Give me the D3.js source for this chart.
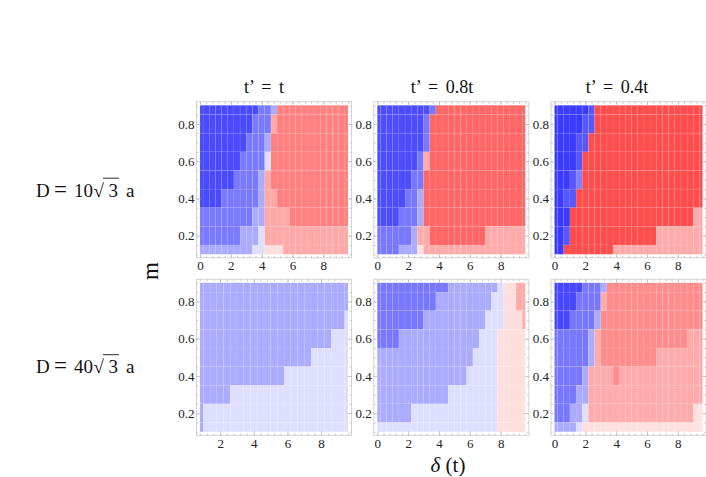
<!DOCTYPE html>
<html>
<head>
<meta charset="utf-8">
<script src="https://cdn.jsdelivr.net/npm/d3@7"></script>
<style>
body { margin: 0; background: #fff; }
text { font-family: "Liberation Serif", "Times New Roman", serif; }
</style>
</head>
<body>
<svg id="chart" width="706" height="477"></svg>
<script>
// column titles and row labels
var titles = ["t\u2019 = t", "t\u2019 = 0.8t", "t\u2019 = 0.4t"];
var rowFactor = ["10", "40"];

// m values of the rows (top to bottom), delta step 0.4
var mValues = [0.9, 0.8, 0.7, 0.6, 0.5, 0.4, 0.3, 0.2, 0.1];
var deltaStep = 0.4;
var deltaMax = 9.6;
var deltaStart = [0, 0, 0, 0.8, 0, 0];
var xTicks = [0, 2, 4, 6, 8];
var yTicks = [0.2, 0.4, 0.6, 0.8];

// each row is a list of runs "<count><level>" along delta
// level codes: D M L V = blue (dark -> very light), v l m r = red (very light -> dark)
var grid1 = [
  "10D 2M 1L 12m",
  "9D 3M 1l 12m",
  "8D 3M 1L 13m",
  "7D 4M 1V 13m",
  "6D 4M 1L 1l 13m",
  "4D 6M 1L 2l 12m",
  "9M 2L 4l 10m",
  "7M 3L 1V 14l",
  "9L 2V 3v 11l"
];
var grid2 = [
  "9D 1M 15m",
  "8D 1M 16m",
  "8D 1M 16m",
  "7D 1M 1l 16m",
  "6D 2M 17m",
  "5D 2M 1L 17m",
  "4D 3M 1L 17m",
  "6M 1L 2l 9m 7l",
  "4M 3L 1v 17l"
];
var grid3 = [
  "6D 1M 18r",
  "5D 2M 18r",
  "4D 2M 19r",
  "4D 1M 20r",
  "3D 1M 1L 20r",
  "2D 2M 21r",
  "3D 20r 2l",
  "2D 1M 14r 8l",
  "2D 8r 15l"
];
var grid4 = [
  "23L",
  "23L",
  "22L 1V",
  "20L 3V",
  "17L 6V",
  "13L 10V",
  "5L 18V",
  "1L 22V",
  "1L 22V"
];
var grid5 = [
  "12M 8L 1V 2v 2l",
  "10M 9L 2V 2v 2l",
  "8M 10L 3V 3v 1l",
  "4M 13L 3V 5v",
  "16L 4V 5v",
  "15L 5V 5v",
  "12L 8V 5v",
  "6L 14V 5v",
  "20V 5v"
];
var grid6 = [
  "5D 3M 1L 16m",
  "4D 4M 1l 16m",
  "3D 4M 1L 17m",
  "6M 1L 1l 14m 3l",
  "6M 1L 1l 9m 8l",
  "5M 1L 4l 1m 14l",
  "4M 2L 19l",
  "3M 2L 1V 17l 2v",
  "4L 1V 20v"
];
var grids = [grid1, grid2, grid3, grid4, grid5, grid6];

// value of each level code, per panel (-1 = full blue, +1 = full red)
var shades = [
  {D: -0.71, M: -0.52, L: -0.33, V: -0.13, v: 0.13, l: 0.34, m: 0.5},
  {D: -0.70, M: -0.53, L: -0.33, V: -0.13, v: 0.12, l: 0.33, m: 0.6},
  {D: -0.77, M: -0.66, L: -0.5, r: 0.7, l: 0.33},
  {L: -0.33, V: -0.13},
  {M: -0.53, L: -0.33, V: -0.13, v: 0.13, l: 0.33},
  {D: -0.72, M: -0.53, L: -0.33, V: -0.13, v: 0.12, l: 0.33, m: 0.45}
];

function expandRow(s) {
  var out = [];
  s.split(" ").forEach(function(run) {
    var n = parseInt(run, 10), c = run.slice(-1);
    for (var i = 0; i < n; i++) out.push(c);
  });
  return out;
}

var svg = d3.select("#chart");
var color = d3.scaleLinear().domain([-1, 0, 1]).range(["#0000ff", "#ffffff", "#ff0000"]);

var panelLeft = [200, 377.3, 554.5];
var panelTop = [105.3, 282.8];
var pw = 148, ph = 149, pad = 3.5;

grids.forEach(function(grid, p) {
  var col = p % 3, row = Math.floor(p / 3);
  var x0 = panelLeft[col], y0 = panelTop[row];
  var dmin = deltaStart[p];
  var x = d3.scaleLinear().domain([dmin, deltaMax]).range([x0, x0 + pw]);
  var y = d3.scaleLinear().domain([0.1, 0.9]).range([y0 + ph, y0]);
  var g = svg.append("g");

  // cells
  var cells = [];
  grid.forEach(function(line, j) {
    var m = mValues[j];
    expandRow(line).forEach(function(c, i) {
      var d = dmin + deltaStep * i;
      cells.push({
        d0: Math.max(d - deltaStep / 2, dmin), d1: Math.min(d + deltaStep / 2, deltaMax),
        m0: Math.max(m - 0.05, 0.1), m1: Math.min(m + 0.05, 0.9),
        v: shades[p][c]
      });
    });
  });
  g.selectAll("rect.cell")
    .data(cells)
    .enter()
    .append("rect")
    .attr("class", "cell")
    .attr("x", function(d) { return x(d.d0); })
    .attr("y", function(d) { return y(d.m1); })
    .attr("width", function(d) { return Math.max(0, x(d.d1) - x(d.d0)); })
    .attr("height", function(d) { return y(d.m0) - y(d.m1); })
    .attr("fill", function(d) { return color(d.v); })
    .attr("stroke", "#fff")
    .attr("stroke-opacity", 0.1)
    .attr("stroke-width", 0.6);

  // frame
  var fx0 = x0 - pad, fx1 = x0 + pw + pad, fy0 = y0 - pad, fy1 = y0 + ph + pad;
  g.append("rect")
    .attr("x", fx0).attr("y", fy0)
    .attr("width", fx1 - fx0).attr("height", fy1 - fy0)
    .attr("fill", "none")
    .attr("stroke", "#d4d4d4")
    .attr("stroke-width", 1);

  var xMajor = xTicks.filter(function(v) { return v >= dmin; });
  var xMinor = d3.range(0, 9.61, 0.4).filter(function(v) { return v >= dmin - 1e-9; });
  var yMinor = d3.range(0.1, 0.901, 0.05);

  function frameAxis(axis, tx, ty, vals, size) {
    var a = g.append("g")
      .attr("transform", "translate(" + tx + "," + ty + ")")
      .call(axis.tickValues(vals).tickSize(size).tickFormat(""));
    a.select(".domain").remove();
    a.selectAll(".tick line").attr("stroke", "#b8b8b8").attr("stroke-width", 0.7);
    return a;
  }
  frameAxis(d3.axisBottom(x), 0, fy1, xMinor, -2);
  frameAxis(d3.axisTop(x), 0, fy0, xMinor, -2);
  frameAxis(d3.axisLeft(y), fx0, 0, yMinor, -2);
  frameAxis(d3.axisRight(y), fx1, 0, yMinor, -2);
  frameAxis(d3.axisBottom(x), 0, fy1, xMajor, -4);
  frameAxis(d3.axisTop(x), 0, fy0, xMajor, -4);
  frameAxis(d3.axisLeft(y), fx0, 0, yTicks, -4);
  frameAxis(d3.axisRight(y), fx1, 0, yTicks, -4);

  // tick labels
  var xl = g.append("g")
    .attr("transform", "translate(0," + fy1 + ")")
    .call(d3.axisBottom(x).tickValues(xMajor)
      .tickSize(0).tickPadding(3).tickFormat(d3.format("d")));
  xl.select(".domain").remove();
  xl.selectAll("text").attr("font-size", 13).attr("fill", "#222")
    .style("font-family", "'Liberation Serif', serif");

  var yl = g.append("g")
    .attr("transform", "translate(" + fx0 + ",0)")
    .call(d3.axisLeft(y).tickValues(yTicks).tickSize(0).tickPadding(2).tickFormat(d3.format(".1f")));
  yl.select(".domain").remove();
  yl.selectAll("text").attr("font-size", 13).attr("fill", "#222")
    .style("font-family", "'Liberation Serif', serif");
});

// column titles
var titleX = [264, 442, 617];
titles.forEach(function(t, i) {
  svg.append("text")
    .attr("x", titleX[i]).attr("y", 93)
    .attr("text-anchor", "middle")
    .attr("font-size", 18)
    .attr("word-spacing", 3)
    .attr("fill", "#111")
    .text(t);
});

// row labels: D = 10 sqrt(3) a
var rowBase = [196.5, 373];
rowFactor.forEach(function(f, i) {
  var lab = svg.append("g").attr("transform", "translate(0," + rowBase[i] + ")");
  var fs = 19;
  function piece(s, px, size) {
    return lab.append("text").attr("x", px).attr("y", 0)
      .attr("font-size", size || fs).attr("fill", "#111").text(s);
  }
  piece("D", 36);
  piece("=", 54, 23);
  piece(f, 74);
  piece("\u221A", 93.5);
  var three = piece("3", 108.5);
  piece("a", 126);
  var w3 = three.node().getComputedTextLength();
  lab.append("line")
    .attr("x1", 103).attr("x2", 108.5 + w3 + 1)
    .attr("y1", -18.3).attr("y2", -18.3)
    .attr("stroke", "#111").attr("stroke-width", 0.9);
});

// axis titles
svg.append("text")
  .attr("transform", "translate(158,271) rotate(-90)")
  .attr("text-anchor", "middle")
  .attr("font-size", 23)
  .attr("fill", "#111")
  .text("m");

var dl = svg.append("text")
  .attr("x", 448).attr("y", 472)
  .attr("text-anchor", "middle")
  .attr("font-size", 21)
  .attr("fill", "#111");
dl.append("tspan").attr("font-style", "italic").text("\u03B4");
dl.append("tspan").text(" (t)");
</script>
</body>
</html>
